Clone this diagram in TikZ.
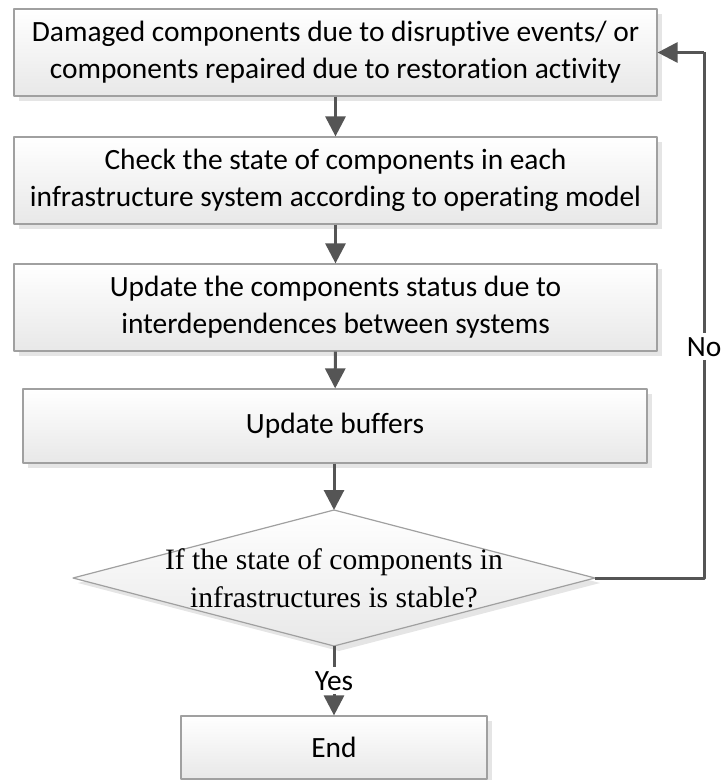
\documentclass[tikz,border=0pt]{standalone}
\usepackage{fontspec}
\setmainfont{Carlito}[Ligatures={NoCommon}]
\newfontfamily\qfont{Liberation Serif}
\usetikzlibrary{arrows.meta,shadows}

\definecolor{linegray}{RGB}{85,85,85}
\definecolor{edgegray}{RGB}{160,160,160}
\definecolor{shadegray}{RGB}{232,232,232}

\tikzset{
  stepbox/.style={draw=edgegray, line width=0.6pt, top color=white, bottom color=shadegray,
    general shadow={fill=black!10, shadow xshift=2.5pt, shadow yshift=-2.5pt},
    align=center, inner sep=0pt, minimum width=321.5pt, minimum height=43.5pt,
    font=\fontsize{14.7}{18.5}\selectfont},
  flow/.style={draw=linegray, line width=1.5pt, -{Triangle[length=10pt,width=10pt]}},
  plain/.style={draw=linegray, line width=1.5pt},
  lbl/.style={fill=white, inner sep=2pt, font=\fontsize{14.7}{18}\selectfont}
}

\begin{document}
\begin{tikzpicture}[x=0.5pt, y=-0.5pt, line join=round]
  \useasboundingbox (0,0) rectangle (721,780);

  % process boxes
  \node[stepbox] (dmg) at (335.5,52.5) {Damaged components due to disruptive events/ or\\components repaired due to restoration activity};
  \node[stepbox] (chkstate) at (335.5,180.5) {Check the state of components in each\\infrastructure system according to operating model};
  \node[stepbox] (upstat) at (335.5,307.5) {Update the components status due to\\interdependences between systems};
  \node[stepbox, minimum width=312pt, minimum height=37pt] (upbuf) at (335,426) {Update buffers};

  % decision
  \path
  (334,510) coordinate (dtop)
  (595,578) coordinate (dright)
  (334,646) coordinate (dbot)
  (73,578) coordinate (dleft)
  (704,578) coordinate (retlow)
  (704,52.5) coordinate (rethigh);
  \fill[black!10] ([shift={(5,5)}]dtop) -- ([shift={(5,5)}]dright) -- ([shift={(5,5)}]dbot) -- ([shift={(5,5)}]dleft) -- cycle;
  \draw[draw=edgegray, line width=0.6pt, top color=white, bottom color=shadegray] (dtop) -- (dright) -- (dbot) -- (dleft) -- cycle;
  \node[align=center, font=\qfont\fontsize{14.8}{19}\selectfont] (stable) at (334,578) {If the state of components in\\infrastructures is stable?};

  \node[stepbox, minimum width=153pt, minimum height=31.5pt] (fin) at (334,747.5) {End};

  % connectors
  \draw[flow] (dmg) -- (chkstate);
  \draw[flow] (chkstate) -- (upstat);
  \draw[flow] (upstat) -- (upbuf);
  \draw[flow] (upbuf.south -| dtop) -- (dtop);
  \draw[flow] (dbot) -- node[lbl] {Yes} (fin);
  \draw[plain] (dright) -- (retlow) -- node[lbl, pos=0.44] {No} (rethigh);
  \draw[flow] (rethigh) -- (dmg.east);
\end{tikzpicture}
\end{document}
